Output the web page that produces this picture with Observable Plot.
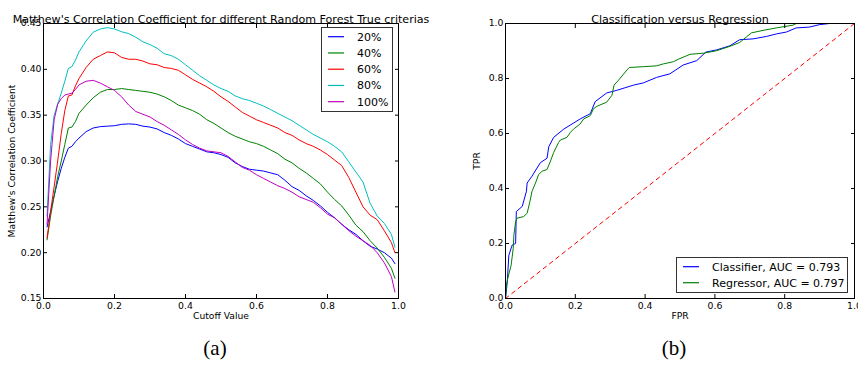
<!DOCTYPE html>
<html>
<head>
<meta charset="utf-8">
<script src="https://cdn.jsdelivr.net/npm/d3@7"></script>
<script src="https://cdn.jsdelivr.net/npm/@observablehq/plot@0.6"></script>
<style>
  html, body { margin: 0; padding: 0; background: #fff; }
  #wrap { position: relative; width: 858px; height: 366px; overflow: hidden; font-family: "DejaVu Sans", sans-serif; }
  #wrap > svg { position: absolute; top: 0; overflow: visible; }
</style>
</head>
<body>
<div id="wrap"></div>
<script>
// ---------- Panel (a): MCC vs cutoff ----------
const cutoff = [0.01,0.02,0.03,0.04,0.05,0.06,0.07,0.08,0.09,0.10,
  0.12,0.14,0.16,0.18,0.20,0.22,0.24,0.26,0.28,0.30,
  0.32,0.34,0.36,0.38,0.40,0.42,0.44,0.46,0.48,0.50,
  0.52,0.54,0.56,0.58,0.60,0.62,0.64,0.66,0.68,0.70,
  0.72,0.74,0.76,0.78,0.80,0.82,0.84,0.86,0.88,0.90,
  0.92,0.94,0.96,0.98,0.99];
const mcc20 = [0.228,0.245,0.262,0.278,0.292,0.304,0.314,0.316,0.321,0.325,
  0.332,0.336,0.3375,0.338,0.3385,0.340,0.3405,0.340,0.338,0.337,
  0.335,0.331,0.328,0.324,0.319,0.316,0.313,0.310,0.309,0.307,
  0.304,0.298,0.294,0.291,0.290,0.289,0.287,0.285,0.279,0.272,
  0.268,0.262,0.257,0.251,0.244,0.238,0.231,0.225,0.220,0.213,
  0.207,0.204,0.200,0.194,0.188];
const mcc40 = [0.214,0.240,0.262,0.283,0.300,0.318,0.336,0.337,0.343,0.352,
  0.361,0.369,0.375,0.378,0.378,0.379,0.378,0.377,0.376,0.375,
  0.373,0.370,0.366,0.361,0.358,0.355,0.351,0.345,0.341,0.336,
  0.331,0.327,0.324,0.321,0.319,0.316,0.312,0.308,0.302,0.298,
  0.292,0.287,0.281,0.275,0.266,0.258,0.251,0.241,0.230,0.223,
  0.213,0.205,0.195,0.183,0.172];
const mcc60 = [0.216,0.245,0.272,0.300,0.330,0.355,0.371,0.372,0.382,0.390,
  0.402,0.411,0.415,0.419,0.418,0.413,0.411,0.411,0.409,0.406,
  0.405,0.402,0.401,0.399,0.394,0.389,0.385,0.381,0.376,0.370,
  0.365,0.359,0.353,0.349,0.345,0.342,0.339,0.336,0.331,0.328,
  0.323,0.319,0.316,0.312,0.307,0.301,0.295,0.282,0.266,0.250,
  0.241,0.236,0.224,0.211,0.200];
const mcc80 = [0.240,0.318,0.350,0.362,0.374,0.387,0.401,0.403,0.410,0.419,
  0.431,0.4405,0.444,0.4455,0.444,0.441,0.439,0.435,0.430,0.427,
  0.423,0.417,0.415,0.411,0.405,0.399,0.393,0.388,0.383,0.379,
  0.376,0.371,0.368,0.366,0.363,0.360,0.356,0.352,0.348,0.344,
  0.339,0.334,0.329,0.325,0.321,0.316,0.310,0.299,0.288,0.277,
  0.254,0.240,0.232,0.220,0.206];
const mcc100 = [0.231,0.300,0.345,0.362,0.368,0.372,0.373,0.374,0.378,0.383,
  0.387,0.388,0.385,0.381,0.377,0.370,0.361,0.354,0.351,0.348,
  0.343,0.339,0.334,0.329,0.323,0.318,0.314,0.311,0.310,0.309,
  0.305,0.299,0.293,0.290,0.285,0.281,0.277,0.273,0.270,0.266,
  0.261,0.258,0.255,0.249,0.242,0.238,0.231,0.224,0.218,0.213,
  0.208,0.200,0.189,0.174,0.157];
const mccLabels = ["20%", "40%", "60%", "80%", "100%"];
const mccTicks = [0.15, 0.20, 0.25, 0.30, 0.35, 0.40, 0.45];
const unitTicks = [0.0, 0.2, 0.4, 0.6, 0.8, 1.0];

// ---------- Panel (b): ROC ----------
const clfFPR = [0,0.005,0.0095,0.019,0.029,0.031,0.048,0.06,0.062,0.076,
  0.1,0.119,0.124,0.138,0.167,0.214,0.243,0.257,0.29,0.319,
  0.367,0.395,0.433,0.471,0.509,0.548,0.574,0.605,0.643,0.671,
  0.709,0.748,0.776,0.805,0.833,0.871,0.9,0.929,1.0];
const clfTPR = [0,0.059,0.157,0.194,0.2,0.316,0.335,0.39,0.42,0.445,
  0.494,0.51,0.552,0.586,0.616,0.653,0.672,0.716,0.7475,0.757,
  0.776,0.784,0.804,0.817,0.849,0.865,0.896,0.904,0.919,0.941,
  0.944,0.953,0.962,0.969,0.984,0.987,0.996,1.0,1.0];
const regFPR = [0,0.003,0.0095,0.016,0.022,0.024,0.029,0.033,0.052,0.062,
  0.07,0.076,0.086,0.095,0.105,0.119,0.129,0.138,0.152,0.157,
  0.176,0.186,0.195,0.214,0.224,0.243,0.252,0.262,0.29,0.305,
  0.311,0.324,0.336,0.348,0.355,0.395,0.433,0.452,0.481,0.495,
  0.529,0.567,0.605,0.643,0.671,0.69,0.705,0.738,0.776,0.824,
  0.833,1.0];
const regTPR = [0,0.053,0.089,0.12,0.181,0.23,0.279,0.292,0.298,0.31,
  0.353,0.39,0.42,0.451,0.463,0.469,0.5,0.531,0.567,0.576,
  0.586,0.604,0.616,0.635,0.653,0.665,0.69,0.699,0.714,0.739,
  0.776,0.794,0.8125,0.831,0.84,0.843,0.846,0.853,0.861,0.87,
  0.888,0.892,0.901,0.917,0.931,0.951,0.966,0.975,0.984,0.994,
  1.0,1.0];
const chanceFPR = [0, 1];
const chanceTPR = [0, 1];
const rocLabels = ["Classifier, AUC = 0.793", "Regressor, AUC = 0.797"];
const rocTicks = [0.0, 0.2, 0.4, 0.6, 0.8, 1.0];

// ---------- styles ----------
const mccColors = ["#0000ff", "#008000", "#ff0000", "#00bfbf", "#bf00bf"];
const rocColors = ["#0000ff", "#008000"];
const chanceColor = "#ff0000";

const table = (xs, ys) => xs.map((x, i) => ({x, y: ys[i]}));

function frameAxes(yTicks, yFmt) {
  return [
    Plot.frame({stroke: "black", strokeWidth: 1}),
    Plot.axisX(unitTicks, {anchor: "bottom", tickSize: -4, tickPadding: 8, tickFormat: d3.format(".1f"), label: null}),
    Plot.axisX(unitTicks, {anchor: "top", tickSize: -4, tickFormat: () => "", label: null}),
    Plot.axisY(yTicks, {anchor: "left", tickSize: -4, tickPadding: 6, tickFormat: d3.format(yFmt), label: null}),
    Plot.axisY(yTicks, {anchor: "right", tickSize: -4, tickFormat: () => "", label: null})
  ];
}

const baseStyle = {fontFamily: "DejaVu Sans", fontSize: "9.3px", background: "transparent", overflow: "visible", color: "black"};

const mccSeries = [mcc20, mcc40, mcc60, mcc80, mcc100];
const left = Plot.plot({
  width: 430, height: 366,
  marginLeft: 43, marginRight: 32, marginTop: 23, marginBottom: 68,
  style: baseStyle,
  x: {domain: [0, 1]},
  y: {domain: [0.15, 0.45]},
  marks: [
    ...mccSeries.map((s, k) => Plot.line(table(cutoff, s), {x: "x", y: "y", stroke: mccColors[k], strokeWidth: 1})),
    ...frameAxes(mccTicks, ".2f"),
    Plot.text(["Matthew's Correlation Coefficient for different Random Forest True criterias"], {frameAnchor: "top", textAnchor: "middle", dy: -8, fontSize: 11.1}),
    Plot.text(["Cutoff Value"], {frameAnchor: "bottom", textAnchor: "middle", dy: 20, fontSize: 9.2}),
    Plot.text(["Matthew's Correlation Coefficient"], {frameAnchor: "left", textAnchor: "middle", dx: -31, rotate: -90, fontSize: 9.2}),
    Plot.text(["(a)"], {frameAnchor: "bottom", textAnchor: "middle", dy: 56, dx: -6, fontSize: 21, fontFamily: "Liberation Serif"})
  ]
});
left.style.left = "0px";

const right = Plot.plot({
  width: 428, height: 366,
  marginLeft: 75, marginRight: 4, marginTop: 23, marginBottom: 68,
  style: baseStyle,
  x: {domain: [0, 1]},
  y: {domain: [0, 1]},
  marks: [
    Plot.line(table(chanceFPR, chanceTPR), {x: "x", y: "y", stroke: chanceColor, strokeWidth: 1, strokeDasharray: "4,4"}),
    Plot.line(table(clfFPR, clfTPR), {x: "x", y: "y", stroke: rocColors[0], strokeWidth: 1}),
    Plot.line(table(regFPR, regTPR), {x: "x", y: "y", stroke: rocColors[1], strokeWidth: 1}),
    ...frameAxes(rocTicks, ".1f"),
    Plot.text(["Classification versus Regression"], {frameAnchor: "top", textAnchor: "middle", dy: -8, fontSize: 11.1}),
    Plot.text(["FPR"], {frameAnchor: "bottom", textAnchor: "middle", dy: 20, fontSize: 9.2}),
    Plot.text(["TPR"], {frameAnchor: "left", textAnchor: "middle", dx: -28.5, rotate: -90, fontSize: 9.2}),
    Plot.text(["(b)"], {frameAnchor: "bottom", textAnchor: "middle", dy: 56, dx: -6, fontSize: 21, fontFamily: "Liberation Serif"})
  ]
});
right.style.left = "430px";

const wrap = document.getElementById("wrap");
wrap.appendChild(left);
wrap.appendChild(right);

// ---------- legends ----------
function addLegend(box, labels, colors) {
  const svg = d3.select(wrap).append("svg")
    .style("left", box.x + "px").style("top", box.y + "px")
    .attr("width", box.w).attr("height", box.h)
    .attr("font-family", "DejaVu Sans").attr("font-size", 11);
  svg.append("rect").attr("x", 0.5).attr("y", 0.5)
    .attr("width", box.w - 1).attr("height", box.h - 1)
    .attr("fill", "white").attr("stroke", "#333").attr("stroke-width", 1);
  labels.forEach((lab, i) => {
    const cy = box.row0 + i * box.step;
    svg.append("line").attr("x1", 7).attr("x2", 23).attr("y1", cy).attr("y2", cy)
      .attr("stroke", colors[i]).attr("stroke-width", 1.2);
    svg.append("text").attr("x", 36).attr("y", cy).attr("dy", "0.35em")
      .attr("fill", "black").text(lab);
  });
}
addLegend({x: 321, y: 27, w: 72, h: 85, row0: 9.7, step: 16.25}, mccLabels, mccColors);
addLegend({x: 676, y: 257, w: 172, h: 36, row0: 9.7, step: 16}, rocLabels, rocColors);
</script>
</body>
</html>
